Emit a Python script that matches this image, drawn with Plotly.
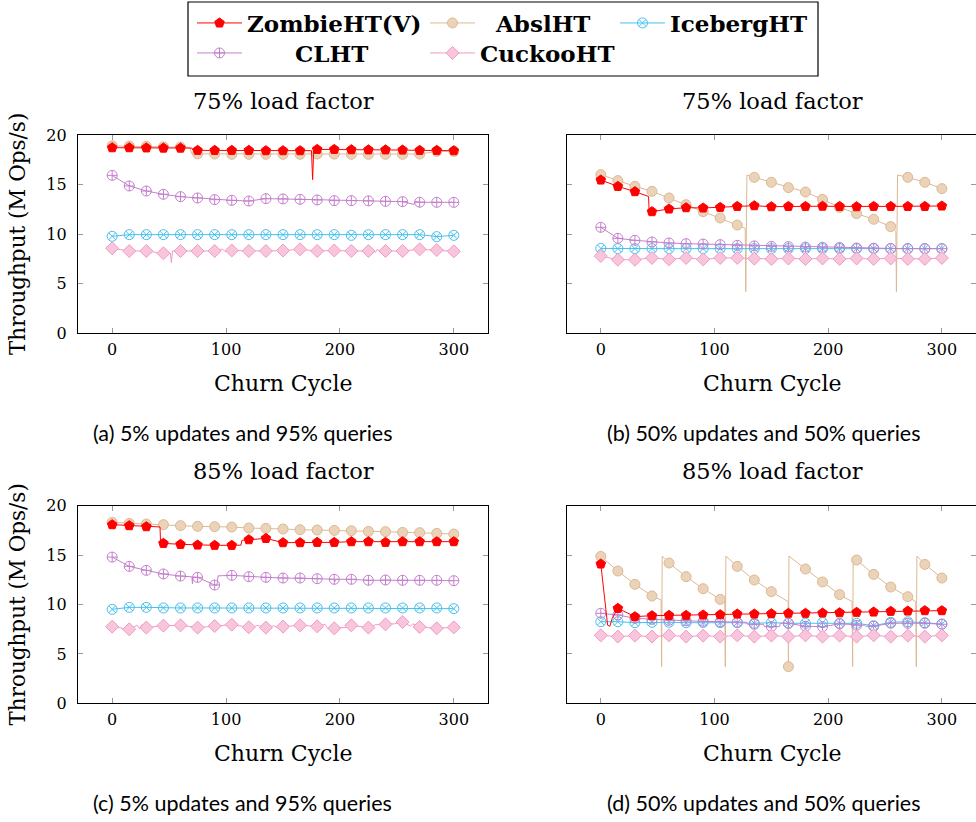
import plotly.graph_objects as go

W, H = 976, 822

# ---------------- data ----------------
MARK_X = [0, 15, 30, 45, 60, 75, 90, 105, 120, 135, 150, 165, 180, 195, 210, 225, 240, 255, 270, 285, 300]
X_TICKS = [0, 100, 200, 300]
Y_TICKS = [0, 5, 10, 15, 20]
SERIES = ["ZombieHT(V)", "AbslHT", "IcebergHT", "CLHT", "CuckooHT"]
PANEL_TITLES = ["75% load factor", "75% load factor", "85% load factor", "85% load factor"]
CAPTIONS = ["(a) 5% updates and 95% queries", "(b) 50% updates and 50% queries",
            "(c) 5% updates and 95% queries", "(d) 50% updates and 50% queries"]
X_LABEL = "Churn Cycle"
Y_LABEL = "Throughput (M Ops/s)"

# panel (a)
a_zombie = [18.72, 18.72, 18.70, 18.68, 18.68, 18.45, 18.45, 18.45, 18.45, 18.42, 18.42, 18.42, 18.55, 18.55, 18.52, 18.50, 18.50, 18.48, 18.45, 18.45, 18.42]
a_absl = [18.90, 18.88, 18.85, 18.80, 18.78, 18.10, 18.08, 18.05, 18.05, 18.05, 18.05, 18.05, 18.08, 18.08, 18.05, 18.05, 18.05, 18.05, 18.08, 18.35, 18.35]
a_iceberg = [9.78, 9.95, 9.95, 9.95, 9.95, 9.95, 9.95, 9.95, 9.95, 9.95, 9.95, 9.95, 9.95, 9.95, 9.88, 9.95, 9.95, 9.95, 9.95, 9.75, 9.88]
a_clht = [15.93, 14.86, 14.35, 14.02, 13.78, 13.65, 13.48, 13.41, 13.34, 13.58, 13.55, 13.51, 13.45, 13.38, 13.38, 13.36, 13.31, 13.28, 13.22, 13.21, 13.21]
a_cuckoo = [8.57, 8.30, 8.30, 8.07, 8.30, 8.30, 8.30, 8.35, 8.30, 8.30, 8.35, 8.47, 8.30, 8.35, 8.30, 8.30, 8.30, 8.30, 8.47, 8.40, 8.27]
a_zombie_ex = ([70, 71, 175, 176, 177], [18.68, 18.45, 18.42, 15.5, 18.55])
a_absl_ex = ([68, 70], [18.75, 18.10])
a_iceberg_ex = ([], [])
a_clht_ex = ([265, 266], [13.0, 13.3])
a_cuckoo_ex = ([51, 52, 53, 97, 99, 229, 231, 233, 235],
               [8.10, 7.13, 8.30, 8.50, 8.25, 8.50, 8.15, 8.50, 8.20])

# panel (b)
b_zombie = [15.46, 14.82, 14.29, 12.27, 12.54, 12.67, 12.64, 12.70, 12.80, 12.87, 12.77, 12.80, 12.80, 12.82, 12.80, 12.77, 12.80, 12.80, 12.80, 12.80, 12.84]
b_absl = [16.00, 15.40, 14.82, 14.32, 13.65, 12.97, 12.27, 11.63, 10.92, 15.73, 15.23, 14.69, 14.25, 13.51, 12.70, 12.07, 11.50, 10.76, 15.73, 15.23, 14.59]
b_iceberg = [8.56, 8.54, 8.54, 8.54, 8.54, 8.54, 8.54, 8.54, 8.54, 8.54, 8.54, 8.54, 8.54, 8.54, 8.54, 8.54, 8.54, 8.54, 8.54, 8.54, 8.54]
b_clht = [10.69, 9.58, 9.38, 9.21, 9.11, 9.04, 9.00, 8.94, 8.87, 8.81, 8.77, 8.74, 8.70, 8.68, 8.66, 8.60, 8.58, 8.56, 8.54, 8.54, 8.54]
b_cuckoo = [7.80, 7.42, 7.42, 7.60, 7.46, 7.60, 7.46, 7.60, 7.60, 7.53, 7.50, 7.55, 7.50, 7.55, 7.50, 7.55, 7.50, 7.55, 7.50, 7.50, 7.60]
b_zombie_ex = ([42, 42.5], [13.80, 12.30])
b_absl_ex = ([127, 127.5, 128.5, 259.5, 260, 261], [10.59, 4.2, 15.97, 10.3, 4.2, 15.97])
b_iceberg_ex = ([], [])
b_clht_ex = ([], [])
b_cuckoo_ex = ([], [])

# panel (c)
c_zombie = [18.08, 17.98, 17.88, 16.19, 16.09, 16.02, 15.99, 15.99, 16.56, 16.69, 16.26, 16.26, 16.29, 16.29, 16.36, 16.36, 16.29, 16.36, 16.36, 16.36, 16.36]
c_absl = [18.31, 18.21, 18.14, 18.08, 17.98, 17.91, 17.88, 17.84, 17.74, 17.71, 17.64, 17.57, 17.54, 17.50, 17.47, 17.40, 17.37, 17.30, 17.27, 17.20, 17.13]
c_iceberg = [9.51, 9.71, 9.71, 9.65, 9.65, 9.65, 9.65, 9.65, 9.65, 9.65, 9.65, 9.65, 9.65, 9.65, 9.65, 9.65, 9.65, 9.65, 9.65, 9.65, 9.58]
c_clht = [14.80, 13.86, 13.46, 13.09, 12.88, 12.75, 11.97, 12.95, 12.82, 12.75, 12.68, 12.68, 12.61, 12.55, 12.55, 12.45, 12.48, 12.45, 12.45, 12.45, 12.41]
c_cuckoo = [7.76, 7.49, 7.66, 7.86, 7.89, 7.66, 7.82, 7.96, 7.70, 7.66, 7.76, 7.89, 7.79, 7.59, 7.89, 7.66, 7.99, 8.23, 7.72, 7.59, 7.69]
c_zombie_ex = ([42, 42.5, 113, 114], [17.85, 16.25, 16.00, 16.50])
c_absl_ex = ([], [])
c_iceberg_ex = ([], [])
c_clht_ex = ([70, 70.5, 71, 92, 93, 195.5, 196], [12.80, 12.10, 12.78, 11.95, 12.90, 12.30, 12.55])
c_cuckoo_ex = ([22, 24, 26, 123, 127, 142, 146, 187, 189, 207, 231, 248, 262, 264],
               [7.90, 7.55, 7.95, 7.60, 7.90, 7.85, 7.60, 8.00, 7.60, 7.70, 7.95, 8.05, 7.80, 8.05])

# panel (d)
d_zombie = [14.10, 9.61, 8.77, 8.87, 8.90, 8.90, 8.94, 8.97, 9.04, 9.04, 9.07, 9.11, 9.11, 9.14, 9.17, 9.21, 9.24, 9.31, 9.34, 9.38, 9.38]
d_absl = [14.87, 13.39, 12.04, 10.86, 14.20, 12.82, 11.60, 10.52, 13.86, 12.48, 11.30, 3.71, 13.59, 12.28, 11.00, 14.50, 13.05, 11.77, 10.79, 14.06, 12.68]
d_iceberg = [8.26, 8.26, 8.16, 8.20, 8.20, 8.16, 8.18, 8.16, 8.16, 8.10, 8.16, 8.10, 8.10, 8.16, 8.10, 8.10, 7.85, 8.20, 8.26, 8.16, 8.03]
d_clht = [9.11, 8.94, 8.60, 8.50, 8.40, 8.35, 8.30, 8.25, 8.20, 8.00, 7.76, 8.10, 7.80, 7.75, 8.05, 7.90, 7.80, 8.10, 8.10, 8.10, 8.00]
d_cuckoo = [6.88, 6.75, 6.85, 6.75, 6.88, 6.75, 6.85, 6.75, 6.88, 6.75, 6.85, 6.75, 6.88, 6.75, 6.85, 6.75, 6.88, 6.75, 6.85, 6.75, 6.88]
d_zombie_ex = ([4, 6, 8, 10], [9.50, 7.90, 7.80, 8.60])
d_absl_ex = ([53, 53.5, 54, 109, 109.5, 110, 164.8, 165.5, 221, 221.5, 222, 277, 277.5, 278],
             [10.46, 3.71, 14.90, 10.29, 3.71, 14.90, 10.30, 14.90, 10.29, 3.71, 14.90, 10.29, 3.71, 14.90])
d_iceberg_ex = ([], [])
d_clht_ex = ([128, 129, 143, 144, 157, 158, 187, 188, 232, 233], [8.20, 8.00, 8.00, 7.76, 7.76, 8.10, 7.80, 7.75, 7.90, 7.80])
d_cuckoo_ex = ([], [])

PANELS = [
    dict(zombie=a_zombie, absl=a_absl, iceberg=a_iceberg, clht=a_clht, cuckoo=a_cuckoo,
         ex=dict(zombie=a_zombie_ex, absl=a_absl_ex, iceberg=a_iceberg_ex, clht=a_clht_ex, cuckoo=a_cuckoo_ex)),
    dict(zombie=b_zombie, absl=b_absl, iceberg=b_iceberg, clht=b_clht, cuckoo=b_cuckoo,
         ex=dict(zombie=b_zombie_ex, absl=b_absl_ex, iceberg=b_iceberg_ex, clht=b_clht_ex, cuckoo=b_cuckoo_ex)),
    dict(zombie=c_zombie, absl=c_absl, iceberg=c_iceberg, clht=c_clht, cuckoo=c_cuckoo,
         ex=dict(zombie=c_zombie_ex, absl=c_absl_ex, iceberg=c_iceberg_ex, clht=c_clht_ex, cuckoo=c_cuckoo_ex)),
    dict(zombie=d_zombie, absl=d_absl, iceberg=d_iceberg, clht=d_clht, cuckoo=d_cuckoo,
         ex=dict(zombie=d_zombie_ex, absl=d_absl_ex, iceberg=d_iceberg_ex, clht=d_clht_ex, cuckoo=d_cuckoo_ex)),
]

# ---------------- styles ----------------
KEYS = ["zombie", "absl", "iceberg", "clht", "cuckoo"]
STYLE = {
    "zombie": dict(color="#FF0000", symbol="pentagon", fill="#FF0000", size=10),
    "absl": dict(color="#DDB892", symbol="circle", fill="#EBD3BA", size=10),
    "iceberg": dict(color="#45C1EE", symbol="circle-x-open", fill="#45C1EE", size=10),
    "clht": dict(color="#C47FCC", symbol="circle-cross-open", fill="#C47FCC", size=10),
    "cuckoo": dict(color="#F29AC3", symbol="diamond", fill="#F7C6DC", size=10),
}
DRAW_ORDER = ["absl", "iceberg", "clht", "cuckoo", "zombie"]

SERIF = "DejaVu Serif"
SANS = "Lato"


def px(x):
    return x / W


def py(y):
    return 1 - y / H


X_DOMAINS = [[78 / W, 488 / W], [566.7 / W, 1.0], [78 / W, 488 / W], [566.7 / W, 1.0]]
Y_DOMAINS = [[py(333.3), py(135)], [py(333.3), py(135)], [py(703.3), py(505.7)], [py(703.3), py(505.7)]]

fig = go.Figure()

for i, panel in enumerate(PANELS):
    xa = "x" if i == 0 else f"x{i + 1}"
    ya = "y" if i == 0 else f"y{i + 1}"
    for key in DRAW_ORDER:
        st = STYLE[key]
        ys = panel[key]
        exx, exy = panel["ex"][key]
        pts = sorted(list(zip(MARK_X, ys)) + list(zip(exx, exy)), key=lambda p: p[0])
        fig.add_trace(go.Scatter(
            x=[p[0] for p in pts], y=[p[1] for p in pts], mode="lines",
            line=dict(color=st["color"], width=1), xaxis=xa, yaxis=ya,
            showlegend=False, hoverinfo="skip"))
        fig.add_trace(go.Scatter(
            x=MARK_X, y=ys, mode="markers", xaxis=xa, yaxis=ya, showlegend=False,
            marker=dict(symbol=st["symbol"], size=st["size"], color=st["fill"],
                        line=dict(color=st["color"], width=1))))

# legend entries (one legend per entry so each can be placed like the original columns)
LEGEND_POS = [(192, 23), (425, 23), (615, 23), (192, 53), (425, 53)]
LEGEND_PAD = ["", "\u00a0\u00a0", "", "\u00a0" * 6, ""]
for k, key in enumerate(KEYS):
    st = STYLE[key]
    lname = "legend" if k == 0 else f"legend{k + 1}"
    fig.add_trace(go.Scatter(
        x=[None], y=[None], mode="lines+markers", name="<b>" + LEGEND_PAD[k] + SERIES[k] + "</b>",
        line=dict(color=st["color"], width=1),
        marker=dict(symbol=st["symbol"], size=st["size"], color=st["fill"],
                    line=dict(color=st["color"], width=1)),
        legend=lname, xaxis="x", yaxis="y"))

layout = dict(
    width=W, height=H, margin=dict(l=0, r=0, t=0, b=0, autoexpand=False),
    paper_bgcolor="white", plot_bgcolor="white",
    showlegend=True,
    font=dict(family=SERIF, color="black"),
)
for k in range(5):
    lname = "legend" if k == 0 else f"legend{k + 1}"
    x0, y0 = LEGEND_POS[k]
    layout[lname] = dict(
        x=px(x0), y=py(y0), xanchor="left", yanchor="middle", orientation="h",
        itemwidth=45, bgcolor="rgba(0,0,0,0)", borderwidth=0,
        font=dict(family=SERIF, size=23, color="black"), itemclick=False, itemdoubleclick=False)

for i in range(4):
    sfx = "" if i == 0 else str(i + 1)
    layout["xaxis" + sfx] = dict(
        domain=X_DOMAINS[i], range=[-30, 330], tickvals=X_TICKS, ticks="inside", ticklen=5,
        tickcolor="#9a9a9a", tickwidth=1, showline=True, linecolor="black", linewidth=1.2,
        mirror="ticks", showgrid=False, zeroline=False, anchor="y" + sfx,
        tickfont=dict(family=SERIF, size=16, color="black"), ticklabelstandoff=1)
    layout["yaxis" + sfx] = dict(
        domain=Y_DOMAINS[i], range=[0, 20], tickvals=Y_TICKS, ticks="inside", ticklen=5,
        tickcolor="#9a9a9a", tickwidth=1, showline=True, linecolor="black", linewidth=1.2,
        mirror="ticks", showgrid=False, zeroline=False, anchor="x" + sfx,
        showticklabels=(i % 2 == 0),
        tickfont=dict(family=SERIF, size=16, color="black"), ticklabelstandoff=7)

fig.update_layout(**layout)

ann = []
TITLE_POS = [(283, 100.7), (772, 100.7), (283, 471), (772, 471)]
XLAB_POS = [(283, 383), (772, 383), (283, 753), (772, 753)]
CAP_POS = [(242, 433), (763, 433), (242, 803), (763, 803)]
for i in range(4):
    ann.append(dict(x=px(TITLE_POS[i][0]), y=py(TITLE_POS[i][1]), xref="paper", yref="paper",
                    text=PANEL_TITLES[i], showarrow=False, xanchor="center", yanchor="middle",
                    font=dict(family=SERIF, size=22.5, color="black")))
    ann.append(dict(x=px(XLAB_POS[i][0]), y=py(XLAB_POS[i][1]), xref="paper", yref="paper",
                    text=X_LABEL, showarrow=False, xanchor="center", yanchor="middle",
                    font=dict(family=SERIF, size=22, color="black")))
    ann.append(dict(x=px(CAP_POS[i][0]), y=py(CAP_POS[i][1]), xref="paper", yref="paper",
                    text=CAPTIONS[i], showarrow=False, xanchor="center", yanchor="middle",
                    font=dict(family=SANS, size=21.5, color="black")))
for yc in [234, 604.5]:
    ann.append(dict(x=px(17), y=py(yc), xref="paper", yref="paper", text=Y_LABEL,
                    textangle=-90, showarrow=False, xanchor="center", yanchor="middle",
                    font=dict(family=SERIF, size=21.5, color="black")))

fig.update_layout(
    annotations=ann,
    shapes=[dict(type="rect", xref="paper", yref="paper", x0=px(188), x1=px(818), y0=py(76), y1=py(2),
                 line=dict(color="black", width=1.2), fillcolor="rgba(0,0,0,0)")],
)

fig.write_html("out.html", config={"displayModeBar": False},
               post_script="document.body.style.margin='0';document.body.style.overflow='hidden';")
